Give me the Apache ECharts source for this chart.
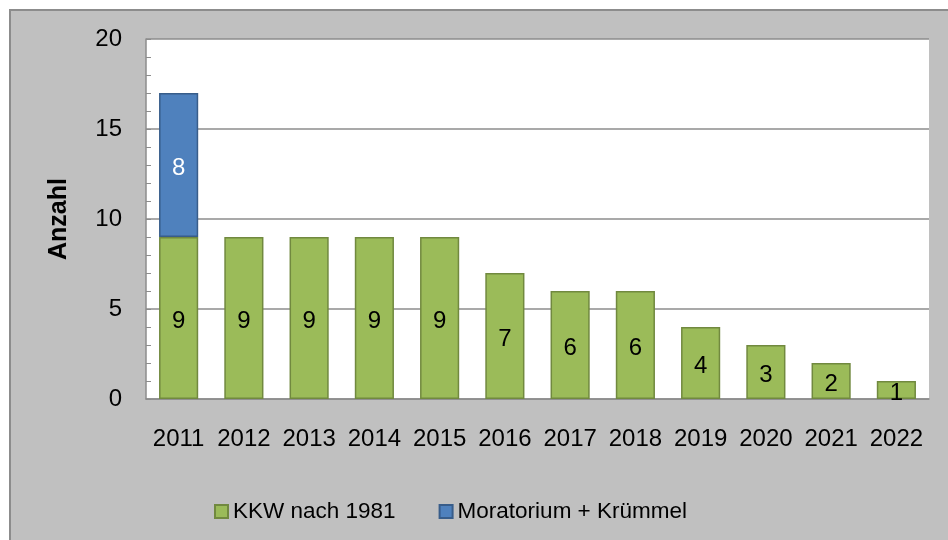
<!DOCTYPE html>
<html><head><meta charset="utf-8">
<script src="https://cdn.jsdelivr.net/npm/echarts@6/dist/echarts.min.js"></script>
<style>html,body{margin:0;padding:0;background:#fff}#c{width:948px;height:540px}</style>
</head><body><div id="c"></div>
<script>
const categories = ['2011','2012','2013','2014','2015','2016','2017','2018','2019','2020','2021','2022'];
const kkwNach1981 = [9,9,9,9,9,7,6,6,4,3,2,1];
const moratorium = [8,null,null,null,null,null,null,null,null,null,null,null];
const yTicks = [0,5,10,15,20];

const chart = echarts.init(document.getElementById('c'));
const FONT = 'Liberation Sans, Arial, sans-serif';
chart.setOption({
  animation: false,
  textStyle: {fontFamily: FONT},
  graphic: [{
    type: 'rect', z: -10, silent: true,
    shape: {x: 10, y: 10, width: 960, height: 560},
    style: {fill: '#c0c0c0', stroke: '#8c8c8c', lineWidth: 2}
  }],
  grid: {left: 146, right: 19, top: 39, bottom: 141, show: true, backgroundColor: '#ffffff', borderWidth: 0},
  legend: {
    data: [{name: 'KKW nach 1981', icon: 'rect'}, {name: 'Moratorium + Krümmel', icon: 'rect'}],
    left: 209, top: 495,
    itemWidth: 13, itemHeight: 13, itemGap: 43,
    textStyle: {fontSize: 22.5, color: '#000', fontFamily: FONT}
  },
  xAxis: {
    type: 'category', data: categories,
    axisLine: {lineStyle: {color: '#8c8c8c', width: 1.5}},
    axisTick: {show: false},
    axisLabel: {fontSize: 24, color: '#000', margin: 28, interval: 0, fontFamily: FONT}
  },
  yAxis: {
    type: 'value', min: yTicks[0], max: yTicks[yTicks.length-1], interval: 5,
    name: 'Anzahl', nameLocation: 'middle', nameGap: 74, nameRotate: 90,
    nameTextStyle: {fontSize: 25, fontWeight: 'bold', color: '#000', fontFamily: FONT},
    axisLine: {show: true, lineStyle: {color: '#8c8c8c', width: 1.5}},
    axisTick: {show: true, inside: true, length: 5, lineStyle: {color: '#8c8c8c'}},
    minorTick: {show: true, splitNumber: 5, length: 5, lineStyle: {color: '#8c8c8c'}},
    splitLine: {show: true, lineStyle: {color: '#8c8c8c', width: 1.5}},
    axisLabel: {fontSize: 24, color: '#000', margin: 24, fontFamily: FONT}
  },
  series: [
    {
      name: 'KKW nach 1981', type: 'bar', stack: 'a', data: kkwNach1981, barWidth: '60%',
      itemStyle: {color: '#9bbb59', borderColor: '#71893f', borderWidth: 1.5},
      label: {show: true, position: 'inside', offset: [0, 3], fontSize: 24, color: '#000', fontFamily: FONT}
    },
    {
      name: 'Moratorium + Krümmel', type: 'bar', stack: 'a', data: moratorium, barWidth: '60%',
      itemStyle: {color: '#4f81bd', borderColor: '#385d8a', borderWidth: 1.5},
      label: {show: true, position: 'inside', offset: [0, 3], fontSize: 24, color: '#fff', fontFamily: FONT}
    }
  ]
});
</script></body></html>
